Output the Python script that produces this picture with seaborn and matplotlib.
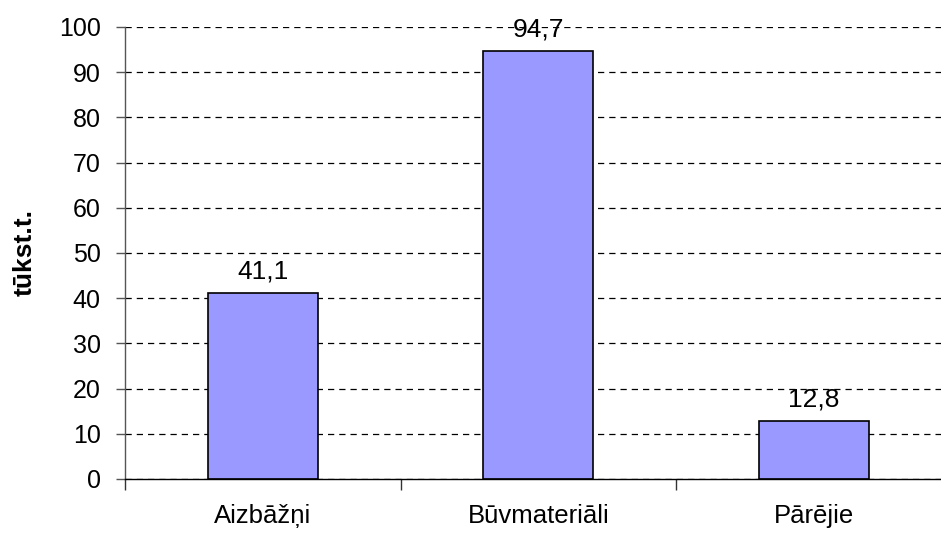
import matplotlib
matplotlib.use("Agg")
import matplotlib.pyplot as plt
import seaborn as sns
import pandas as pd

categories = ["Aizbāžņi", "Būvmateriāli", "Pārējie"]
values = [41.1, 94.7, 12.8]
y_ticks = [0, 10, 20, 30, 40, 50, 60, 70, 80, 90, 100]
y_label = "tūkst.t."

sns.set_theme(style="white")
plt.rcParams["font.family"] = ["Liberation Sans", "DejaVu Sans"]
plt.rcParams["text.color"] = "black"
plt.rcParams["axes.labelcolor"] = "black"
plt.rcParams["xtick.color"] = "black"
plt.rcParams["ytick.color"] = "black"

df = pd.DataFrame({"kategorija": categories, "vertiba": values})

fig = plt.figure(figsize=(9.41, 5.33), dpi=100)
W, H = 941, 533
ax = fig.add_axes([125 / W, 1 - 479 / H, 826.5 / W, (479 - 27) / H])

sns.barplot(data=df, x="kategorija", y="vertiba", color="#9999FF",
            edgecolor="black", linewidth=1.2, width=0.40, saturation=1, ax=ax)

ax.set_xlim(-0.5, 2.5)
ax.set_ylim(0, 100)
ax.set_yticks(y_ticks)
ax.yaxis.grid(True, color="black", linestyle=(0, (5, 4)), linewidth=0.9)
ax.set_axisbelow(True)

for s in ["top", "right"]:
    ax.spines[s].set_visible(False)
ax.spines["left"].set_color("#555555")
ax.spines["left"].set_linewidth(1.0)
ax.spines["bottom"].set_color("black")
ax.spines["bottom"].set_linewidth(1.0)

ax.tick_params(axis="y", direction="out", length=6.5, width=1, color="#555555",
               labelcolor="black", labelsize=18, pad=11, left=True)
ax.set_xticks([0, 1, 2])
ax.set_xticklabels(categories)
ax.tick_params(axis="x", which="major", length=0, labelcolor="black",
               labelsize=18.5, pad=18)
ax.set_xticks([-0.5, 0.5, 1.5], minor=True)
ax.tick_params(axis="x", which="minor", direction="out", length=8, width=1,
               color="#333333", bottom=True)

ax.set_xlabel("")
ax.set_ylabel(y_label, fontsize=19, fontweight="bold", labelpad=16,
              color="black")

ax.bar_label(ax.containers[0],
             labels=[f"{v:.1f}".replace(".", ",") for v in values],
             padding=7, fontsize=19, color="black")

fig.savefig("out.png", dpi=100)
